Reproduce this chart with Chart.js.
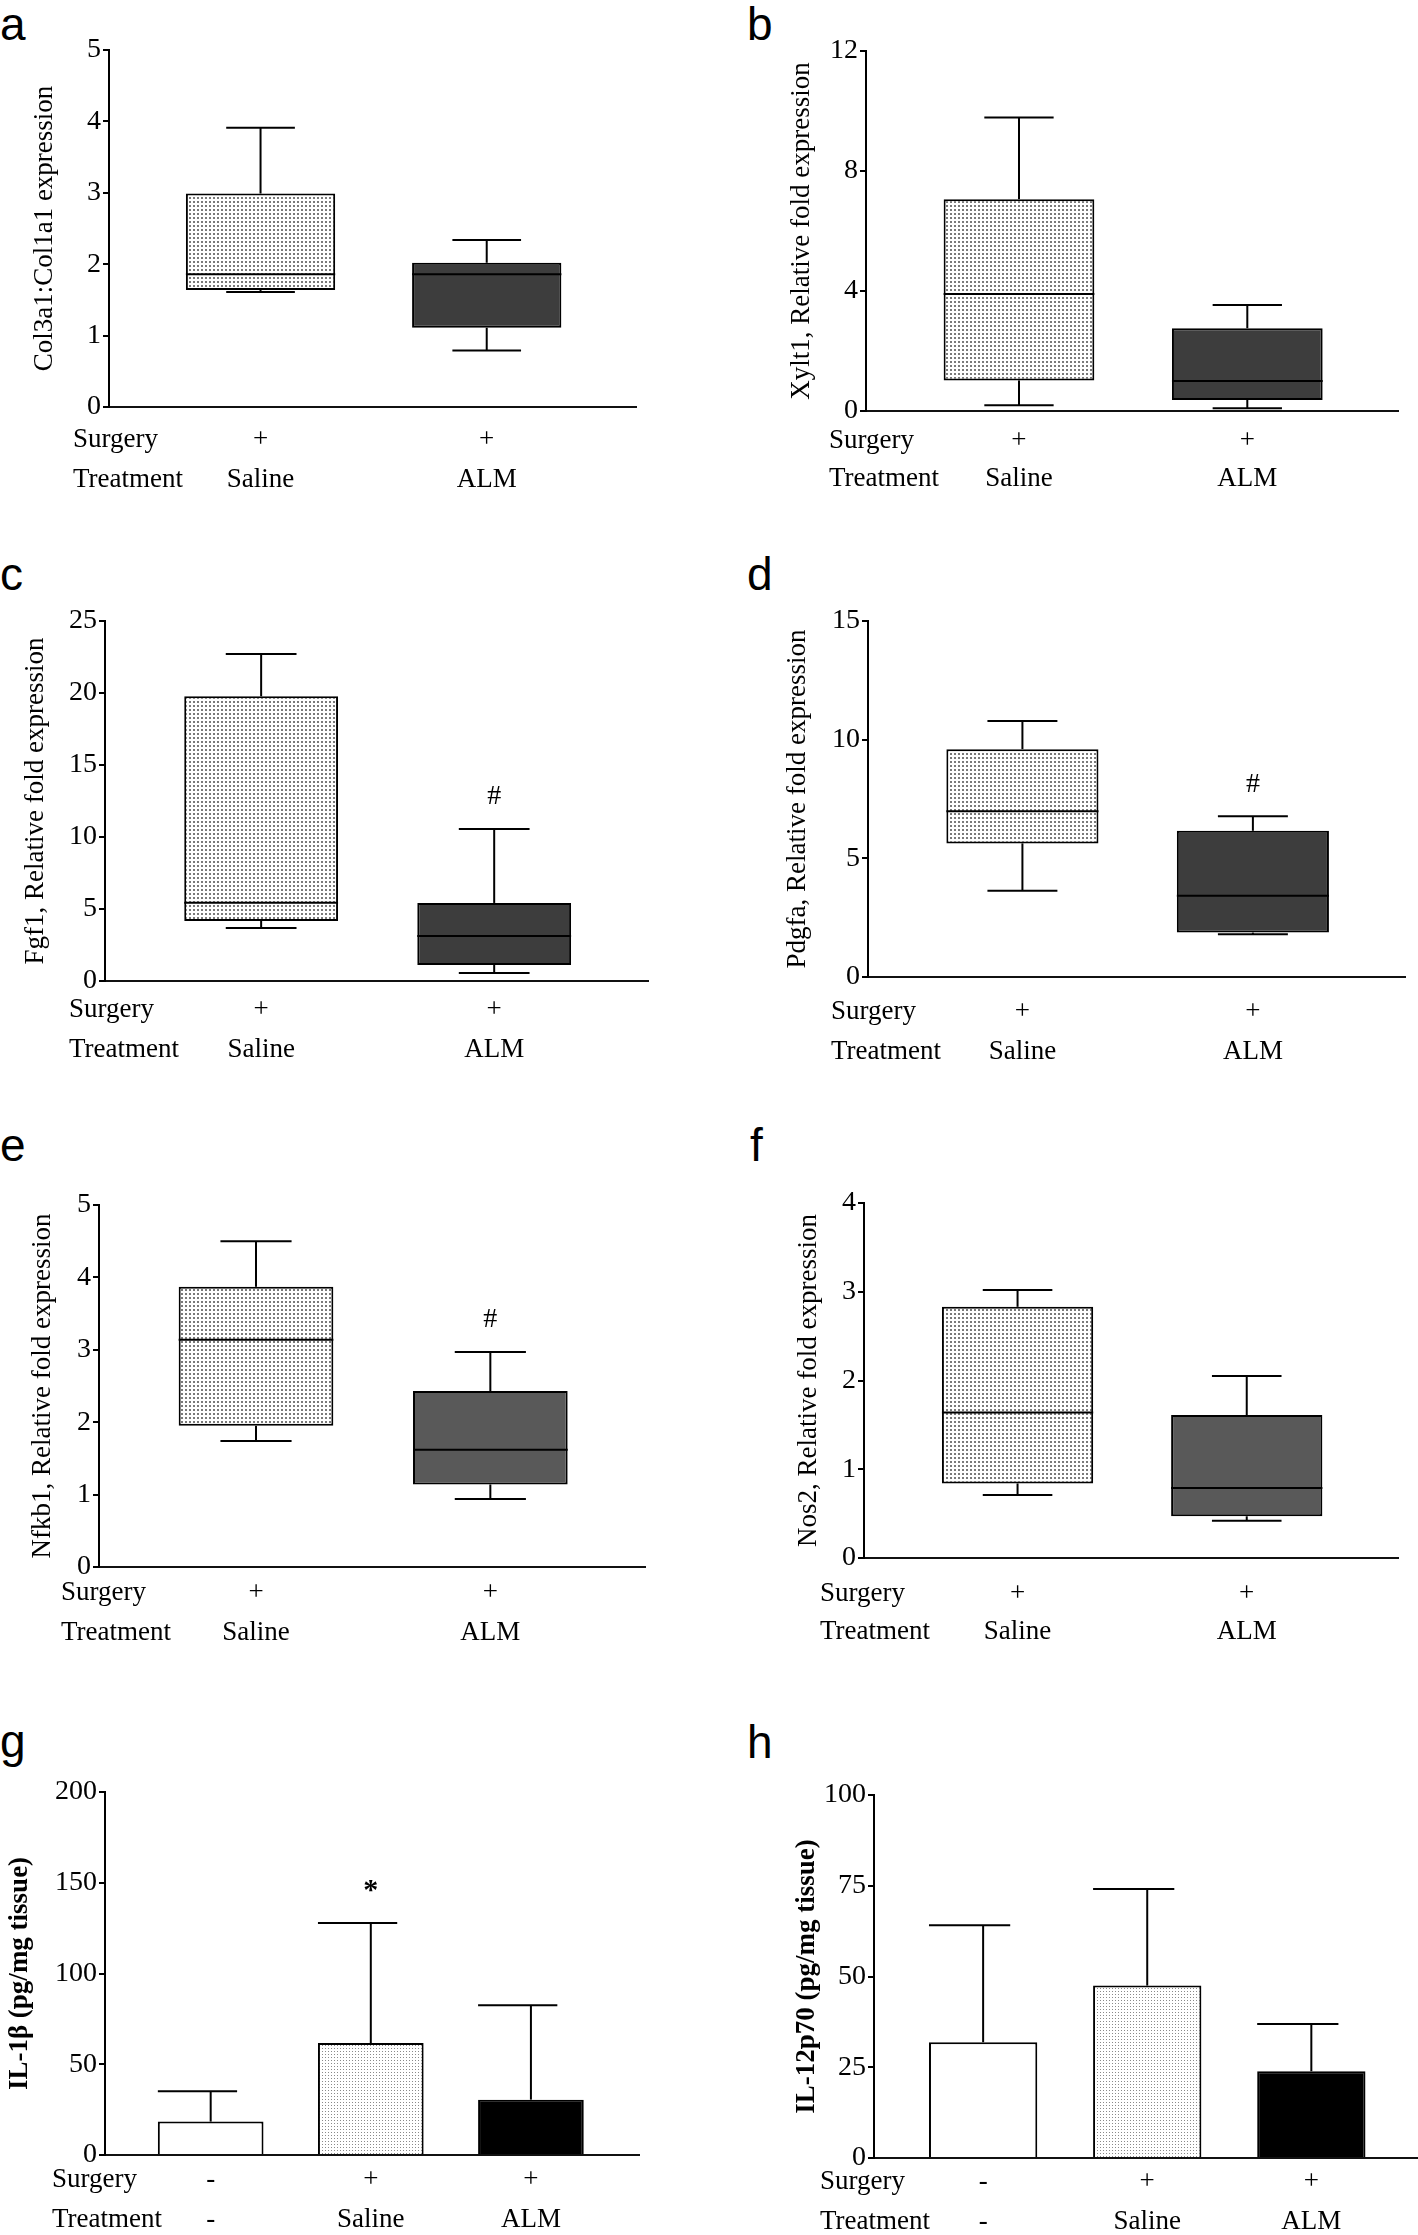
<!DOCTYPE html>
<html>
<head>
<meta charset="utf-8">
<script src="https://cdn.jsdelivr.net/npm/chart.js@4.4.0/dist/chart.umd.min.js"></script>
<style>
  body { margin: 0; background: #fff; width: 1418px; height: 2235px; position: relative; overflow: hidden; }
  canvas { position: absolute; }
  .lbl { position: absolute; font-family: "Liberation Sans", Arial, sans-serif; font-size: 46px; line-height: 1; color: #000; }
</style>
</head>
<body>
<div class="lbl" style="left:0px;top:1px">a</div>
<div class="lbl" style="left:747px;top:1px">b</div>
<div class="lbl" style="left:0px;top:551px">c</div>
<div class="lbl" style="left:747px;top:551px">d</div>
<div class="lbl" style="left:0px;top:1122px">e</div>
<div class="lbl" style="left:750px;top:1122px">f</div>
<div class="lbl" style="left:0px;top:1718px">g</div>
<div class="lbl" style="left:747px;top:1719px">h</div>

<canvas id="ca"></canvas>
<canvas id="cb"></canvas>
<canvas id="cc"></canvas>
<canvas id="cd"></canvas>
<canvas id="ce"></canvas>
<canvas id="cf"></canvas>
<canvas id="cg"></canvas>
<canvas id="ch"></canvas>

<script>
// x labels
const rowHeaders = ['Surgery', 'Treatment'];
const boxGroups = ['Saline', 'ALM'];
const boxSurgery = ['+', '+'];
const barGroups = ['-', 'Saline', 'ALM'];
const barSurgery = ['-', '+', '+'];

// a: Col3a1:Col1a1
const col3Min = [1.61, 0.79];
const col3Q1  = [1.64, 1.11];
const col3Med = [1.86, 1.86];
const col3Q3  = [2.99, 2.02];
const col3Max = [3.91, 2.34];
const col3Ticks = [0, 1, 2, 3, 4, 5];

// b: Xylt1
const xyltMin = [0.19, 0.09];
const xyltQ1  = [1.02, 0.37];
const xyltMed = [3.90, 1.00];
const xyltQ3  = [7.06, 2.76];
const xyltMax = [9.78, 3.53];
const xyltTicks = [0, 4, 8, 12];

// c: Fgf1
const fgfMin = [3.68, 0.56];
const fgfQ1  = [4.17, 1.11];
const fgfMed = [5.44, 3.13];
const fgfQ3  = [19.77, 5.42];
const fgfMax = [22.70, 10.56];
const fgfTicks = [0, 5, 10, 15, 20, 25];
const fgfMarks = ['', '#'];

// d: Pdgfa
const pdgfMin = [3.63, 1.80];
const pdgfQ1  = [5.63, 1.87];
const pdgfMed = [6.98, 3.42];
const pdgfQ3  = [9.60, 6.16];
const pdgfMax = [10.79, 6.77];
const pdgfTicks = [0, 5, 10, 15];
const pdgfMarks = ['', '#'];

// e: Nfkb1
const nfkbMin = [1.74, 0.94];
const nfkbQ1  = [1.95, 1.14];
const nfkbMed = [3.14, 1.62];
const nfkbQ3  = [3.87, 2.43];
const nfkbMax = [4.50, 2.97];
const nfkbTicks = [0, 1, 2, 3, 4, 5];
const nfkbMarks = ['', '#'];

// f: Nos2
const nosMin = [0.71, 0.42];
const nosQ1  = [0.84, 0.47];
const nosMed = [1.64, 0.79];
const nosQ3  = [2.83, 1.61];
const nosMax = [3.02, 2.05];
const nosTicks = [0, 1, 2, 3, 4];

// g: IL-1b (mean, SD)
const il1bMean = [18.4, 61.7, 30.5];
const il1bSD   = [16.7, 66.1, 52.0];
const il1bTicks = [0, 50, 100, 150, 200];
const il1bMarks = ['', '*', ''];

// h: IL-12p70 (mean, SD)
const il12Mean = [31.9, 47.5, 23.9];
const il12SD   = [32.2, 26.6, 13.0];
const il12Ticks = [0, 25, 50, 75, 100];

Chart.defaults.font.family = '"Liberation Serif", "Times New Roman", serif';
Chart.defaults.color = '#000';

function dotPattern(size, dot, color) {
  const c = document.createElement('canvas');
  c.width = size; c.height = size;
  const g = c.getContext('2d');
  g.fillStyle = '#fff';
  g.fillRect(0, 0, size, size);
  g.fillStyle = color;
  g.fillRect(1, 1, dot, dot);
  return g.createPattern(c, 'repeat');
}

function line(ctx, x1, y1, x2, y2) {
  ctx.beginPath();
  ctx.moveTo(x1, y1);
  ctx.lineTo(x2, y2);
  ctx.stroke();
}

// whiskers, medians, error bars, marks and the row headers
const extras = {
  id: 'extras',
  afterDatasetsDraw(chart, args, o) {
    const { ctx, scales: { x, y } } = chart;
    const bars = chart.getDatasetMeta(0).data;
    ctx.save();
    ctx.strokeStyle = '#000';
    ctx.lineWidth = 2;
    bars.forEach((bar, i) => {
      const cx = bar.x, half = bar.width / 2;
      let top;
      if (o.med) {
        top = y.getPixelForValue(o.max[i]);
        const bot = y.getPixelForValue(o.min[i]);
        const cap = half * 0.46;
        line(ctx, cx, bar.y, cx, top);
        line(ctx, cx - cap, top, cx + cap, top);
        line(ctx, cx, bar.base, cx, bot);
        line(ctx, cx - cap, bot, cx + cap, bot);
        const m = y.getPixelForValue(o.med[i]);
        line(ctx, cx - half, m, cx + half, m);
      } else {
        top = y.getPixelForValue(o.mean[i] + o.sd[i]);
        line(ctx, cx, bar.y, cx, top);
        line(ctx, cx - half, top, cx + half / 2, top);
      }
      if (o.marks && o.marks[i]) {
        ctx.fillStyle = '#000';
        ctx.textAlign = 'center';
        ctx.textBaseline = 'middle';
        ctx.font = o.marks[i] === '*' ? 'bold 30px "Liberation Serif"' : '28px "Liberation Serif"';
        ctx.fillText(o.marks[i], cx, top - 32);
      }
    });
    ctx.restore();
  },
  afterDraw(chart, args, o) {
    const { ctx } = chart;
    const xs = chart.scales.x;
    ctx.save();
    ctx.fillStyle = '#000';
    ctx.textAlign = 'left';
    ctx.textBaseline = 'middle';
    ctx.font = '27px "Liberation Serif"';
    rowHeaders.forEach((t, i) => {
      ctx.fillText(t, o.rowX, xs.top + o.pad + o.lh * (i + 0.5));
    });
    ctx.restore();
  }
};

function makePanel(id, L, cfg) {
  const cv = document.getElementById(id);
  cv.width = L.w; cv.height = L.h;
  cv.style.left = L.left + 'px';
  cv.style.top = L.top + 'px';
  cv.style.width = L.w + 'px';
  cv.style.height = L.h + 'px';
  const ticks = cfg.ticks;
  new Chart(cv.getContext('2d'), {
    type: 'bar',
    data: { datasets: [cfg.dataset] },
    options: {
      responsive: false,
      animation: false,
      layout: { padding: { top: L.plotTop, right: L.w - L.plotRight, left: 0, bottom: 0 } },
      plugins: {
        legend: { display: false },
        tooltip: { enabled: false },
        extras: Object.assign({ rowX: L.rowX, pad: L.pad, lh: L.lh }, cfg.extras)
      },
      scales: {
        x: {
          type: 'linear',
          min: cfg.xMin,
          max: cfg.xMax,
          offset: false,
          afterBuildTicks: s => { s.ticks = cfg.groups.map((g, i) => ({ value: i + 1 })); },
          afterFit: s => { s.height = L.h - L.zeroY; },
          grid: { display: false, drawTicks: false, offset: false },
          border: { color: '#111', width: 2 },
          ticks: {
            autoSkip: false,
            maxRotation: 0,
            padding: L.pad,
            color: '#000',
            font: { size: 27, lineHeight: L.lh + 'px' },
            callback: (v, i) => [cfg.surgery[i], cfg.groups[i]]
          }
        },
        y: {
          min: ticks[0],
          max: ticks[ticks.length - 1],
          afterBuildTicks: s => { s.ticks = ticks.map(v => ({ value: v })); },
          afterFit: s => { s.width = L.axisX; },
          grid: { drawOnChartArea: false, drawTicks: true, tickLength: 6, color: '#000', lineWidth: 2 },
          border: { color: '#000', width: 2 },
          ticks: { color: '#000', padding: 2, font: { size: 28 } },
          title: {
            display: true,
            text: cfg.title,
            color: '#000',
            font: { size: 27, lineHeight: 1.2, weight: cfg.titleWeight || 'normal' },
            padding: { top: L.titleX - 16.2, bottom: 0 }
          }
        }
      }
    },
    plugins: [extras]
  });
}

const dots = dotPattern(4, 2, '#7a7a7a');
const fineDots = dotPattern(3, 1, '#8a8a8a');
const almDark = '#3d3d3d';
const almMid = '#595959';

function boxCfg(title, ticks, min, q1, med, q3, max, almFill, marks) {
  return {
    title: title,
    ticks: ticks,
    groups: boxGroups,
    surgery: boxSurgery,
    xMin: 0.33,
    xMax: 2.66,
    dataset: {
      data: boxGroups.map((g, i) => ({ x: i + 1, y: [q1[i], q3[i]] })),
      backgroundColor: [dots, almFill],
      borderColor: '#000',
      borderWidth: 2,
      borderSkipped: false,
      categoryPercentage: 1,
      barPercentage: 0.66
    },
    extras: { min: min, med: med, max: max, marks: marks }
  };
}

function barCfg(title, ticks, mean, sd, marks, xMin, xMax) {
  return {
    title: title,
    titleWeight: 'bold',
    ticks: ticks,
    groups: barGroups,
    surgery: barSurgery,
    xMin: xMin,
    xMax: xMax,
    dataset: {
      data: barGroups.map((g, i) => ({ x: i + 1, y: mean[i] })),
      backgroundColor: ['#fff', fineDots, '#000'],
      borderColor: '#000',
      borderWidth: 2,
      categoryPercentage: 1,
      barPercentage: 0.66
    },
    extras: { mean: mean, sd: sd, marks: marks }
  };
}

makePanel('ca', { left: 0, top: 0, w: 700, h: 520, axisX: 109, plotTop: 50, zeroY: 407, plotRight: 636, titleX: 45, rowX: 73, pad: 13, lh: 40 },
  boxCfg('Col3a1:Col1a1 expression', col3Ticks, col3Min, col3Q1, col3Med, col3Q3, col3Max, almDark, null));
makePanel('cb', { left: 709, top: 0, w: 709, h: 520, axisX: 157, plotTop: 51, zeroY: 411, plotRight: 689, titleX: 93, rowX: 120, pad: 11, lh: 38 },
  boxCfg('Xylt1, Relative fold expression', xyltTicks, xyltMin, xyltQ1, xyltMed, xyltQ3, xyltMax, almDark, null));
makePanel('cc', { left: 0, top: 560, w: 700, h: 540, axisX: 105, plotTop: 61, zeroY: 421, plotRight: 648, titleX: 36, rowX: 69, pad: 9, lh: 40 },
  boxCfg('Fgf1, Relative fold expression', fgfTicks, fgfMin, fgfQ1, fgfMed, fgfQ3, fgfMax, almDark, fgfMarks));
makePanel('cd', { left: 709, top: 560, w: 709, h: 540, axisX: 159, plotTop: 61, zeroY: 417, plotRight: 696, titleX: 89, rowX: 122, pad: 15, lh: 40 },
  boxCfg('Pdgfa, Relative fold expression', pdgfTicks, pdgfMin, pdgfQ1, pdgfMed, pdgfQ3, pdgfMax, almDark, pdgfMarks));
makePanel('ce', { left: 0, top: 1140, w: 700, h: 540, axisX: 99, plotTop: 65, zeroY: 427, plotRight: 645, titleX: 43, rowX: 61, pad: 6, lh: 40 },
  boxCfg('Nfkb1, Relative fold expression', nfkbTicks, nfkbMin, nfkbQ1, nfkbMed, nfkbQ3, nfkbMax, almMid, nfkbMarks));
makePanel('cf', { left: 709, top: 1140, w: 709, h: 540, axisX: 155, plotTop: 63, zeroY: 418, plotRight: 689, titleX: 100, rowX: 111, pad: 17, lh: 38 },
  boxCfg('Nos2, Relative fold expression', nosTicks, nosMin, nosQ1, nosMed, nosQ3, nosMax, almMid, null));
makePanel('cg', { left: 0, top: 1720, w: 700, h: 515, axisX: 105, plotTop: 72, zeroY: 435, plotRight: 639, titleX: 20, rowX: 52, pad: 5, lh: 40 },
  barCfg('IL-1β (pg/mg tissue)', il1bTicks, il1bMean, il1bSD, il1bMarks, 0.34, 3.675));
makePanel('ch', { left: 709, top: 1720, w: 709, h: 515, axisX: 165, plotTop: 75, zeroY: 438, plotRight: 709, titleX: 98, rowX: 111, pad: 4, lh: 40 },
  barCfg('IL-12p70 (pg/mg tissue)', il12Ticks, il12Mean, il12SD, null, 0.335, 3.65));
</script>
</body>
</html>
